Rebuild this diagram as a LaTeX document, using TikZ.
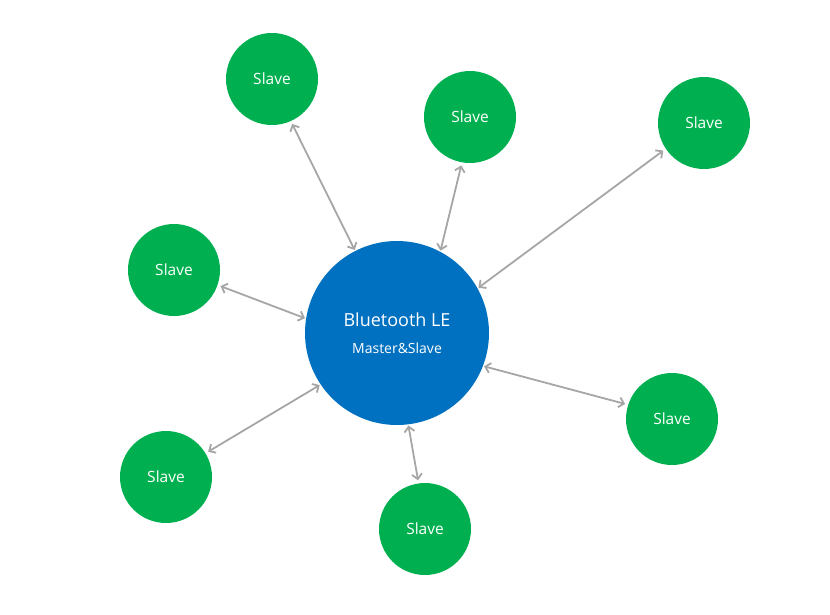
\documentclass[tikz,border=0pt]{standalone}
\usepackage{fontspec}
\setmainfont{Open Sans}
\usetikzlibrary{arrows.meta}
\definecolor{leblue}{HTML}{0070C0}
\definecolor{slavegreen}{HTML}{00B050}
\definecolor{linkgray}{HTML}{A6A6A6}
\begin{document}
\begin{tikzpicture}[x=1pt, y=-1pt,
		master/.style={circle, fill=leblue, minimum size=184pt, inner sep=0pt, text=white, align=center},
		slave/.style={circle, fill=slavegreen, minimum size=92pt, inner sep=0pt, text=white, font=\fontsize{15.5}{18}\selectfont},
		link/.style={linkgray, line width=1.8pt, {Straight Barb[length=5pt,width=10pt]}-{Straight Barb[length=5pt,width=10pt]}, shorten <=1pt, shorten >=3pt}]
	\useasboundingbox (0,0) rectangle (830,614);
	
	% 中心主机
	\node[master] (master) at (397,333) {{\fontsize{18}{21}\selectfont Bluetooth LE}\\[15pt]{\fontsize{14}{16}\selectfont Master\&Slave}};
	
	% 从机
	\node[slave] (s1) at (272,79) {Slave};
	\node[slave] (s2) at (470,117) {Slave};
	\node[slave] (s3) at (704,123) {Slave};
	\node[slave] (s4) at (174,270) {Slave};
	\node[slave] (s5) at (672,419) {Slave};
	\node[slave] (s6) at (166,477) {Slave};
	\node[slave] (s7) at (425,529) {Slave};
	
	% 双向连接 (主机角度/从机角度)
	\foreach \s/\a/\b in {s1/117/294, s2/62/260, s3/29/214, s4/171/341, s5/339/162, s6/214/31, s7/277/98}
		\draw[link] (master.\a) -- (\s.\b);
\end{tikzpicture}
\end{document}
